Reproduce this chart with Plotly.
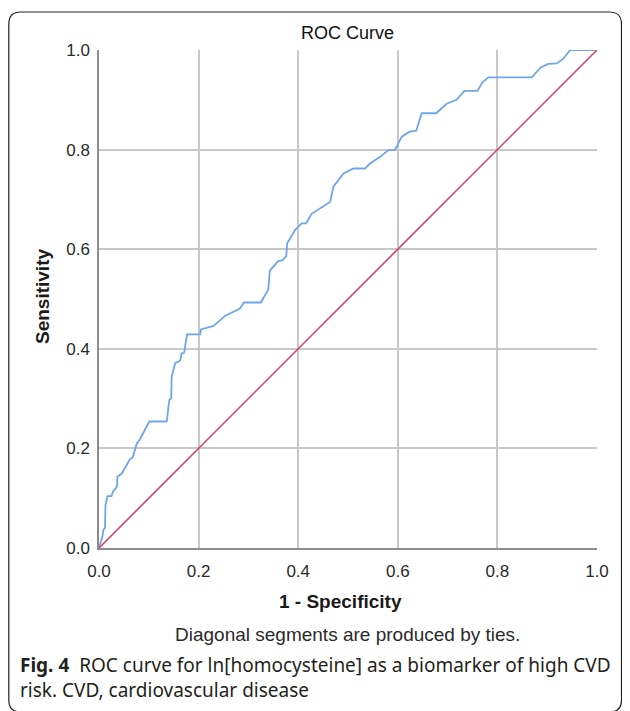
import plotly.graph_objects as go

# ROC curve points (1 - specificity, sensitivity)
fpr = [0, 0.007, 0.009, 0.012, 0.013, 0.017, 0.025, 0.028, 0.036, 0.037, 0.046, 0.052,
       0.062, 0.068, 0.076, 0.082, 0.101, 0.136, 0.141, 0.145, 0.146, 0.153, 0.163, 0.166,
       0.171, 0.175, 0.177, 0.203, 0.205, 0.23, 0.253, 0.283, 0.291, 0.325, 0.34, 0.343,
       0.36, 0.369, 0.376, 0.378, 0.394, 0.407, 0.416, 0.427, 0.464, 0.471, 0.491, 0.511,
       0.534, 0.544, 0.564, 0.581, 0.594, 0.608, 0.624, 0.637, 0.648, 0.677, 0.698, 0.718,
       0.734, 0.76, 0.77, 0.782, 0.869, 0.887, 0.902, 0.919, 0.932, 0.946, 1.0]
tpr = [0, 0.023, 0.037, 0.04, 0.086, 0.104, 0.104, 0.113, 0.123, 0.143, 0.15, 0.16,
       0.178, 0.183, 0.21, 0.218, 0.254, 0.254, 0.297, 0.301, 0.344, 0.371, 0.376, 0.391,
       0.392, 0.418, 0.429, 0.429, 0.439, 0.446, 0.466, 0.481, 0.493, 0.493, 0.519, 0.557,
       0.576, 0.578, 0.586, 0.612, 0.639, 0.652, 0.652, 0.671, 0.695, 0.726, 0.752, 0.762,
       0.762, 0.772, 0.785, 0.799, 0.799, 0.826, 0.836, 0.838, 0.873, 0.873, 0.892, 0.9,
       0.918, 0.918, 0.935, 0.945, 0.945, 0.965, 0.972, 0.973, 0.982, 1.0, 1.0]
ref_x = [0, 1]
ref_y = [0, 1]
tick_vals = [0, 0.2, 0.4, 0.6, 0.8, 1.0]
tick_text = ["0.0", "0.2", "0.4", "0.6", "0.8", "1.0"]

OFF = 8  # page body margin
W, H = 630 - OFF, 711 - OFF
L, R, T, B = 99 - OFF, 33, 50 - OFF, 163
pw, ph = W - L - R, H - T - B


def px(x):  # page pixel -> paper x
    return (x - OFF - L) / pw


def py(y):  # page pixel -> paper y
    return (H - B - (y - OFF)) / ph


fig = go.Figure()
fig.add_trace(go.Scatter(x=fpr, y=tpr, mode="lines",
                         line=dict(color="#6fa6ea", width=1.8), showlegend=False))
fig.add_trace(go.Scatter(x=ref_x, y=ref_y, mode="lines",
                         line=dict(color="#d9375c", width=1.5), showlegend=False))

axis_common = dict(range=[0, 1], tickvals=tick_vals, ticktext=tick_text,
                   showgrid=True, gridcolor="#c8c8c8", gridwidth=1.5,
                   zeroline=False, showline=True, linecolor="#8c8c8c", linewidth=1.5,
                   ticks="", tickfont=dict(family="Liberation Sans", size=17, color="#2a2a2a"))

fig.update_xaxes(**axis_common, ticklabelstandoff=7)
fig.update_yaxes(**axis_common, ticklabelstandoff=4)

font_c = "Liberation Sans"
ann = [
    dict(text="ROC Curve", x=px(347), y=py(33), font=dict(family=font_c, size=18, color="#111111")),
    dict(text="<b>1 - Specificity</b>", x=px(340), y=py(601), font=dict(family=font_c, size=19, color="#1a1a1a")),
    dict(text="<b>Sensitivity</b>", x=px(42), y=py(297), textangle=-90, font=dict(family=font_c, size=19, color="#1a1a1a")),
    dict(text="Diagonal segments are produced by ties.", x=px(347), y=py(634), font=dict(family=font_c, size=19, color="#2a2a2a")),
]
for a in ann:
    a.update(xref="paper", yref="paper", showarrow=False, xanchor="center", yanchor="middle")
    fig.add_annotation(**a)

cap = "Noto Sans"
fig.add_annotation(text="<b>Fig. 4</b>  ROC curve for ln[homocysteine] as a biomarker of high CVD",
                   x=px(18), y=py(665), xref="paper", yref="paper", showarrow=False,
                   xanchor="left", yanchor="middle", font=dict(family=cap, size=19, color="#231f20"))
fig.add_annotation(text="risk. CVD, cardiovascular disease",
                   x=px(18), y=py(690), xref="paper", yref="paper", showarrow=False,
                   xanchor="left", yanchor="middle", font=dict(family=cap, size=19, color="#231f20"))

# rounded frame around the figure
x0, x1, y0, y1, r = px(8.8), px(621.5), py(12), py(712), 12
rx, ry = r / pw, r / ph
path = (f"M {x0} {y1+ry} L {x0} {y0-ry} Q {x0} {y0} {x0+rx} {y0} "
        f"L {x1-rx} {y0} Q {x1} {y0} {x1} {y0-ry} L {x1} {y1+ry} "
        f"Q {x1} {y1} {x1-rx} {y1} L {x0+rx} {y1} Q {x0} {y1} {x0} {y1+ry} Z")
fig.add_shape(type="path", path=path, xref="paper", yref="paper",
              line=dict(color="#222222", width=1.2))

fig.update_layout(width=W, height=H, margin=dict(l=L, r=R, t=T, b=B),
                  plot_bgcolor="white", paper_bgcolor="white")

fig.write_html("out.html")
